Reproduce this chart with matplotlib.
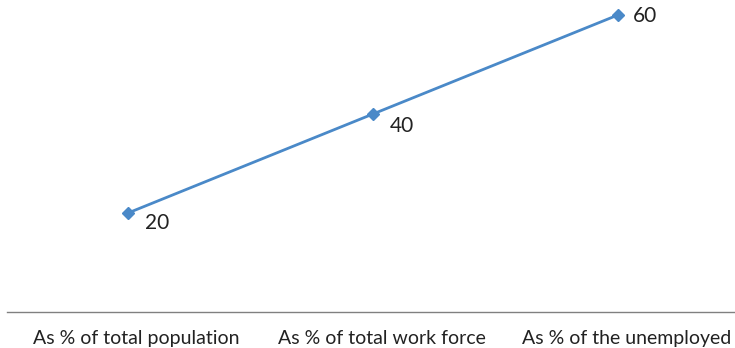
import matplotlib
matplotlib.use("Agg")
import matplotlib.pyplot as plt
import matplotlib.transforms as mtransforms

categories = ["As % of total population", "As % of total work force", "As % of the unemployed"]
values = [20, 40, 60]
labels = ["20", "40", "60"]

plt.rcParams['font.family'] = ['Lato', 'DejaVu Sans']

fig = plt.figure(figsize=(7.35, 3.48), dpi=100)
ax = fig.add_axes([7/735, 36/348, 728/735, 297/348])
x = list(range(len(categories)))
ax.plot(x, values, color="#4A89C8", linewidth=2.0, marker="D", markersize=6,
        clip_on=False, zorder=3)
offsets = [(12, -7.5), (12, -8.5), (11, -1)]
for xi, v, lab, off in zip(x, values, labels, offsets):
    ax.annotate(lab, (xi, v), xytext=off, textcoords="offset points",
                ha="left", va="center", fontsize=15, color="#222222")
ax.set_xlim(-0.494, 2.478)
ax.set_ylim(0, 60)
ax.set_xticks(x)
ax.set_xticklabels(categories, fontsize=14, color="#222222")
ax.tick_params(axis="x", length=0, pad=13)
shift = mtransforms.ScaledTranslation(8.5/100, 0, fig.dpi_scale_trans)
for t in ax.get_xticklabels():
    t.set_transform(t.get_transform() + shift)
ax.set_yticks([])
for s in ["top", "left", "right"]:
    ax.spines[s].set_visible(False)
ax.spines["bottom"].set_color("#808080")
ax.spines["bottom"].set_linewidth(1.0)
fig.savefig("out.png", dpi=100)
